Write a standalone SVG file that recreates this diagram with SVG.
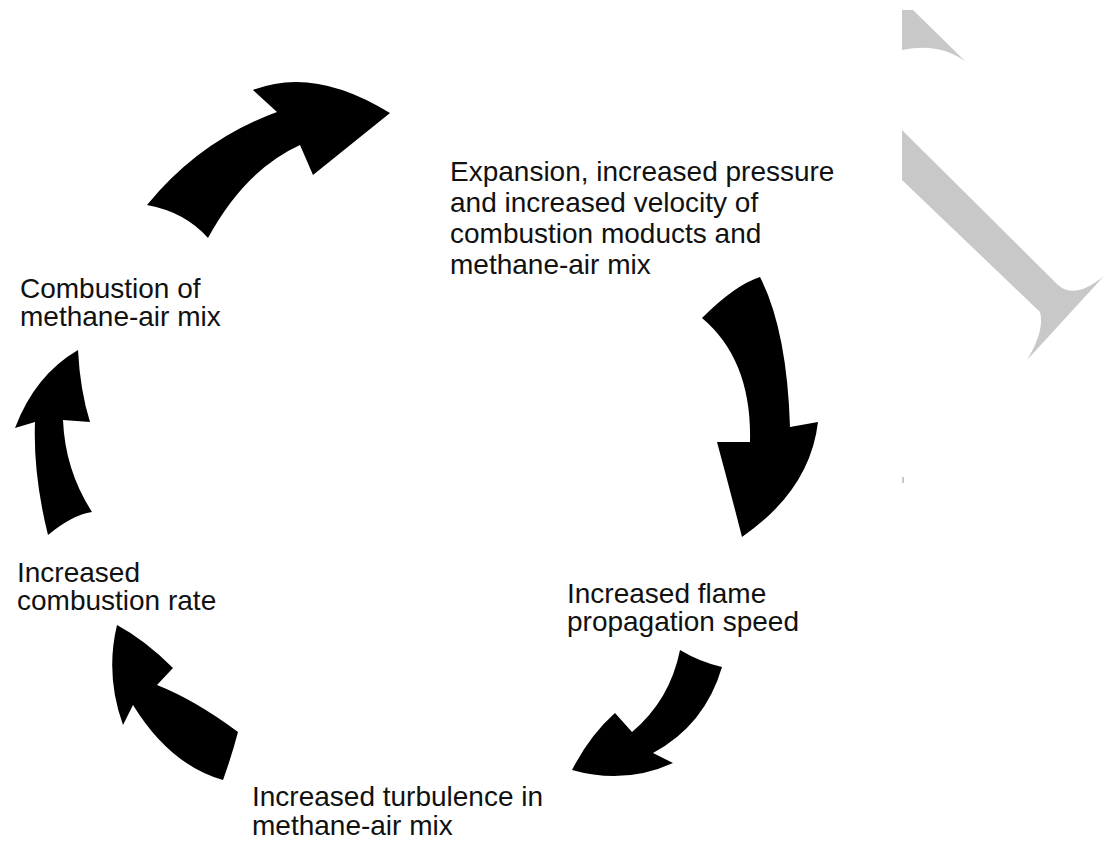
<svg xmlns="http://www.w3.org/2000/svg" width="1111" height="856" viewBox="0 0 1111 856">
<style>
.lbl{font-family:"Liberation Sans",Arial,sans-serif;font-size:28px;fill:#111}
.arr{fill:#000}
.wm{fill:#c8c8c8}
</style>
<rect width="1111" height="856" fill="#fff"/>
<g id="watermark">
<path class="wm" d="M902,10 L913,10 L966,62 Q940,42 902,50 Z"/>
<path class="wm" d="M902,130 L1058,285 Q1075,300 1104,276 L1027,360 Q1045,330 1040,312 L902,180 Z"/>
<rect class="wm" x="902" y="477" width="2" height="6"/>
</g>
<g id="connectors">
<path class="arr" d="M147,205 Q200,140 277,112 L253,90 Q314,66 390,113 L313,175 L300,145 Q245,170 208,238 Q185,212 147,205 Z"/>
<path class="arr" d="M702,318 Q735,285 760,277 Q787,330 790,427 L818,422 Q810,490 742,537 Q730,490 717,442 L750,442 Q752,360 702,318 Z"/>
<path class="arr" d="M680,650 Q700,662 722,667 Q705,725 653,753 L673,763 Q625,785 572,770 Q590,735 615,713 L632,732 Q670,700 680,650 Z"/>
<path class="arr" d="M238,732 Q232,755 223,780 Q170,765 133,705 L123,725 Q105,675 117,625 Q145,640 173,668 L157,685 Q195,700 238,732 Z"/>
<path class="arr" d="M48,535 Q72,515 92,512 Q65,470 63,420 L90,422 Q80,390 78,350 Q35,375 15,428 L35,422 Q33,475 48,535 Z"/>
</g>
<g id="node-expansion">
<text class="lbl" x="450" y="181">Expansion, increased pressure</text>
<text class="lbl" x="450" y="212">and increased velocity of</text>
<text class="lbl" x="450" y="243">combustion moducts and</text>
<text class="lbl" x="450" y="274">methane-air mix</text>
</g>
<g id="node-flame">
<text class="lbl" x="567" y="603">Increased flame</text>
<text class="lbl" x="567" y="631">propagation speed</text>
</g>
<g id="node-turbulence">
<text class="lbl" x="252" y="806">Increased turbulence in</text>
<text class="lbl" x="252" y="835">methane-air mix</text>
</g>
<g id="node-rate">
<text class="lbl" x="17" y="582">Increased</text>
<text class="lbl" x="17" y="610">combustion rate</text>
</g>
<g id="node-combustion">
<text class="lbl" x="20" y="298">Combustion of</text>
<text class="lbl" x="20" y="326">methane-air mix</text>
</g>
</svg>
